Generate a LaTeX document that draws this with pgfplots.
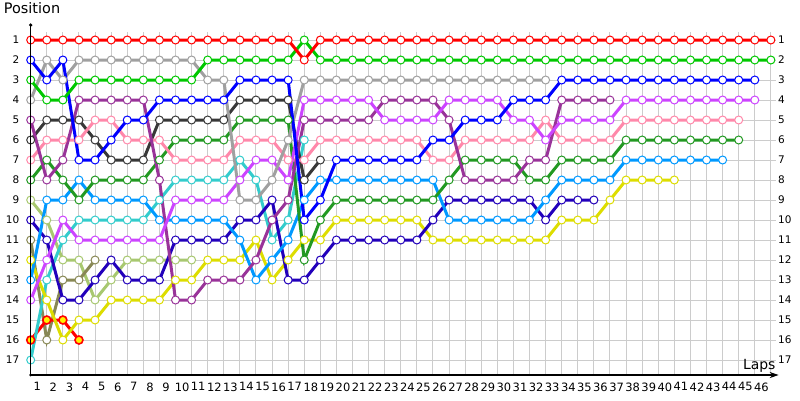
\documentclass[border=0pt]{standalone}
\usepackage{pgfplots}
\pgfplotsset{compat=1.18}
\usetikzlibrary{arrows.meta}
\usepackage{fontspec}
\setmainfont{DejaVu Sans}
\definecolor{cRed}{HTML}{FF0000}
\definecolor{cLime}{HTML}{00C800}
\definecolor{cBlue}{HTML}{0000FF}
\definecolor{cGray}{HTML}{A0A0A0}
\definecolor{cPurple}{HTML}{993399}
\definecolor{cDkGray}{HTML}{383838}
\definecolor{cPink}{HTML}{FF88AA}
\definecolor{cDkGreen}{HTML}{229922}
\definecolor{cLtOlive}{HTML}{A8C870}
\definecolor{cNavy}{HTML}{2200BB}
\definecolor{cOlive}{HTML}{888855}
\definecolor{cYellow}{HTML}{DDDD00}
\definecolor{cLtBlue}{HTML}{0099FF}
\definecolor{cViolet}{HTML}{CC44FF}
\definecolor{cTurq}{HTML}{33CCCC}
\definecolor{cGrid}{HTML}{CCCCCC}
\pgfplotsset{
  drv/.style={line width=3bp, mark=*, mark size=4bp,
    mark options={fill=white, line width=1bp, solid}},
}
\begin{document}
\begin{tikzpicture}[x=1bp,y=1bp]
\useasboundingbox (-30.7,-25) rectangle (769.3,375);
\begin{axis}[
  at={(0,0)}, anchor=south west, scale only axis,
  width=745bp, height=343bp,
  xmin=0, xmax=46.3, ymin=0.6, ymax=17.75, y dir=reverse,
  clip=false,
  axis line style={draw=none},
  major tick length=0,
  xtick={1,...,46}, ytick={1,...,17},
  /pgf/number format/assume math mode=true,
  tick label style={font=\fontsize{10.5}{12}\selectfont},
  xticklabel style={font=\fontsize{11.5}{13}\selectfont, xshift=-9.5bp, yshift=-4bp},
  yticklabel style={xshift=-8bp},
  grid=major, major grid style={color=cGrid, line width=1bp},
]
\addplot[drv, cLtOlive] coordinates {(0,9)(1,10)(2,12)(3,12)(4,14)(5,13)(6,12)(7,12)(8,12)(9,12)(10,12)};
\addplot[drv, cOlive] coordinates {(0,11)(1,16)(2,13)(3,13)(4,12)};
\addplot[drv, cRed, mark options={fill=yellow, line width=1.6bp}] coordinates {(0,16)(1,15)(2,15)(3,16)};
\addplot[drv, cTurq] coordinates {(0,17)(1,13)(2,11)(3,10)(4,10)(5,10)(6,10)(7,10)(8,9)(9,8)(10,8)(11,8)(12,8)(13,7)(14,8)(15,11)(16,10)(17,6)};
\addplot[drv, cDkGray] coordinates {(0,6)(1,5)(2,5)(3,5)(4,6)(5,7)(6,7)(7,7)(8,5)(9,5)(10,5)(11,5)(12,5)(13,4)(14,4)(15,4)(16,4)(17,8)(18,7)};
\addplot[drv, cYellow] coordinates {(0,12)(1,14)(2,16)(3,15)(4,15)(5,14)(6,14)(7,14)(8,14)(9,13)(10,13)(11,12)(12,12)(13,12)(14,11)(15,13)(16,12)(17,11)(18,11)(19,10)(20,10)(21,10)(22,10)(23,10)(24,10)(25,11)(26,11)(27,11)(28,11)(29,11)(30,11)(31,11)(32,11)(33,10)(34,10)(35,10)(36,9)(37,8)(38,8)(39,8)(40,8)};
\addplot[drv, cNavy] coordinates {(0,10)(1,11)(2,14)(3,14)(4,13)(5,12)(6,13)(7,13)(8,13)(9,11)(10,11)(11,11)(12,11)(13,10)(14,10)(15,9)(16,13)(17,13)(18,12)(19,11)(20,11)(21,11)(22,11)(23,11)(24,11)(25,10)(26,9)(27,9)(28,9)(29,9)(30,9)(31,9)(32,10)(33,9)(34,9)(35,9)};
\addplot[drv, cLtBlue] coordinates {(0,13)(1,9)(2,9)(3,8)(4,9)(5,9)(6,9)(7,9)(8,10)(9,10)(10,10)(11,10)(12,10)(13,11)(14,13)(15,12)(16,11)(17,9)(18,8)(19,8)(20,8)(21,8)(22,8)(23,8)(24,8)(25,8)(26,10)(27,10)(28,10)(29,10)(30,10)(31,10)(32,9)(33,8)(34,8)(35,8)(36,8)(37,7)(38,7)(39,7)(40,7)(41,7)(42,7)(43,7)};
\addplot[drv, cDkGreen] coordinates {(0,8)(1,7)(2,8)(3,9)(4,8)(5,8)(6,8)(7,8)(8,7)(9,6)(10,6)(11,6)(12,6)(13,5)(14,5)(15,5)(16,5)(17,12)(18,10)(19,9)(20,9)(21,9)(22,9)(23,9)(24,9)(25,9)(26,8)(27,7)(28,7)(29,7)(30,7)(31,8)(32,8)(33,7)(34,7)(35,7)(36,7)(37,6)(38,6)(39,6)(40,6)(41,6)(42,6)(43,6)(44,6)};
\addplot[drv, cPink] coordinates {(0,7)(1,6)(2,6)(3,6)(4,5)(5,5)(6,6)(7,6)(8,6)(9,7)(10,7)(11,7)(12,7)(13,6)(14,6)(15,6)(16,7)(17,7)(18,6)(19,6)(20,6)(21,6)(22,6)(23,6)(24,6)(25,7)(26,7)(27,6)(28,6)(29,6)(30,6)(31,6)(32,5)(33,6)(34,6)(35,6)(36,6)(37,5)(38,5)(39,5)(40,5)(41,5)(42,5)(43,5)(44,5)};
\addplot[drv, cPurple] coordinates {(0,5)(1,8)(2,7)(3,4)(4,4)(5,4)(6,4)(7,4)(8,8)(9,14)(10,14)(11,13)(12,13)(13,13)(14,12)(15,10)(16,9)(17,5)(18,5)(19,5)(20,5)(21,5)(22,4)(23,4)(24,4)(25,4)(26,5)(27,8)(28,8)(29,8)(30,8)(31,7)(32,7)(33,4)(34,4)(35,4)(36,4)};
\addplot[drv, cViolet] coordinates {(0,14)(1,12)(2,10)(3,11)(4,11)(5,11)(6,11)(7,11)(8,11)(9,9)(10,9)(11,9)(12,9)(13,8)(14,7)(15,7)(16,8)(17,4)(18,4)(19,4)(20,4)(21,4)(22,5)(23,5)(24,5)(25,5)(26,4)(27,4)(28,4)(29,4)(30,5)(31,5)(32,6)(33,5)(34,5)(35,5)(36,5)(37,4)(38,4)(39,4)(40,4)(41,4)(42,4)(43,4)(44,4)(45,4)};
\addplot[drv, cGray] coordinates {(0,4)(1,2)(2,3)(3,2)(4,2)(5,2)(6,2)(7,2)(8,2)(9,2)(10,2)(11,3)(12,3)(13,9)(14,9)(15,8)(16,6)(17,3)(18,3)(19,3)(20,3)(21,3)(22,3)(23,3)(24,3)(25,3)(26,3)(27,3)(28,3)(29,3)(30,3)(31,3)(32,3)};
\addplot[drv, cBlue] coordinates {(0,2)(1,3)(2,2)(3,7)(4,7)(5,6)(6,5)(7,5)(8,4)(9,4)(10,4)(11,4)(12,4)(13,3)(14,3)(15,3)(16,3)(17,10)(18,9)(19,7)(20,7)(21,7)(22,7)(23,7)(24,7)(25,6)(26,6)(27,5)(28,5)(29,5)(30,4)(31,4)(32,4)(33,3)(34,3)(35,3)(36,3)(37,3)(38,3)(39,3)(40,3)(41,3)(42,3)(43,3)(44,3)(45,3)};
\addplot[drv, cLime] coordinates {(0,3)(1,4)(2,4)(3,3)(4,3)(5,3)(6,3)(7,3)(8,3)(9,3)(10,3)(11,2)(12,2)(13,2)(14,2)(15,2)(16,2)(17,1)(18,2)(19,2)(20,2)(21,2)(22,2)(23,2)(24,2)(25,2)(26,2)(27,2)(28,2)(29,2)(30,2)(31,2)(32,2)(33,2)(34,2)(35,2)(36,2)(37,2)(38,2)(39,2)(40,2)(41,2)(42,2)(43,2)(44,2)(45,2)(46,2)};
\addplot[drv, cRed] coordinates {(0,1)(1,1)(2,1)(3,1)(4,1)(5,1)(6,1)(7,1)(8,1)(9,1)(10,1)(11,1)(12,1)(13,1)(14,1)(15,1)(16,1)(17,2)(18,1)(19,1)(20,1)(21,1)(22,1)(23,1)(24,1)(25,1)(26,1)(27,1)(28,1)(29,1)(30,1)(31,1)(32,1)(33,1)(34,1)(35,1)(36,1)(37,1)(38,1)(39,1)(40,1)(41,1)(42,1)(43,1)(44,1)(45,1)(46,1)};
\end{axis}
\begin{axis}[
  at={(0,0)}, anchor=south west, scale only axis,
  width=745bp, height=343bp,
  xmin=0, xmax=46.3, ymin=0.6, ymax=17.75, y dir=reverse,
  hide x axis, axis y line*=right, y axis line style={draw=none},
  major tick length=0, ytick={1,...,17},
  /pgf/number format/assume math mode=true,
  tick label style={font=\fontsize{10.5}{12}\selectfont},
  yticklabel style={xshift=-1bp},
]
\addplot[draw=none] coordinates {(1,1)};
\end{axis}
\draw[line width=1.2bp] (0,350) -- (0,0);
\fill (0,350) circle (1.8bp);
\fill (0,0) circle (1.5bp);
\draw[line width=1.2bp, -{Stealth[length=9bp,width=6bp]}] (0,0) -- (748,0);
\node[anchor=base west, font=\fontsize{14.5}{16}\selectfont, inner sep=0pt] at (-27,362) {Position};
\node[anchor=base east, font=\fontsize{14}{16}\selectfont, inner sep=0pt] at (745,6) {Laps};
\end{tikzpicture}
\end{document}
